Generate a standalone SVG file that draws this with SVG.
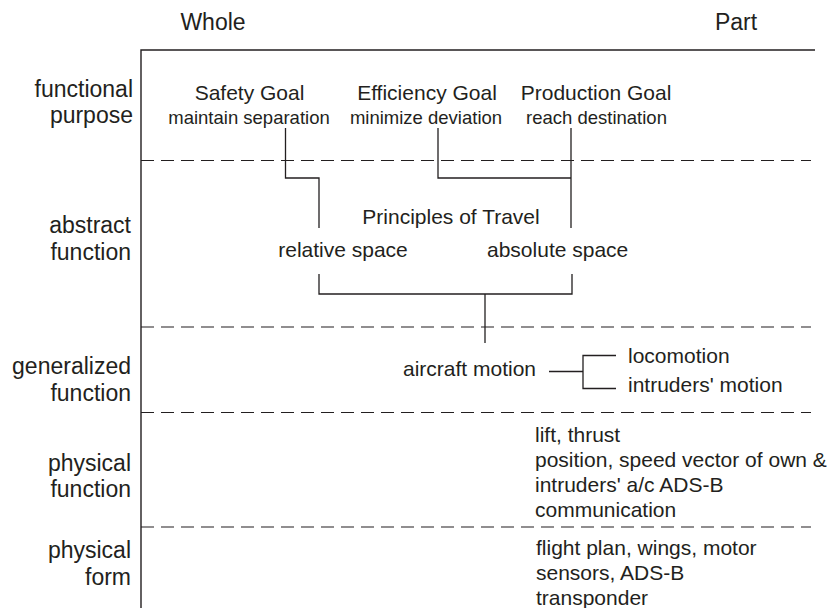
<svg xmlns="http://www.w3.org/2000/svg" width="827" height="608" viewBox="0 0 827 608">
<style>
text{font-family:"Liberation Sans",Arial,Helvetica,sans-serif;fill:#231f20}
.h{font-size:23px}
.lv{font-size:23px;text-anchor:end}
.g{font-size:21px;text-anchor:middle}
.s{font-size:18.5px;text-anchor:middle}
.t{font-size:21px}
.frame{stroke:#231f20;stroke-width:1.4;fill:none}
.dash{stroke:#231f20;stroke-width:1.2;stroke-dasharray:13 7;fill:none}
.c{stroke:#231f20;stroke-width:1.3;fill:none}
</style>
<rect width="827" height="608" fill="#fff"/>
<g id="axis">
<text class="h" x="213" y="30" text-anchor="middle">Whole</text>
<text class="h" x="736" y="30" text-anchor="middle">Part</text>
</g>
<g id="frame">
<path class="frame" d="M141,608 V50 H815"/>
<path class="dash" d="M141,160.5 H811 M141,327 H811 M141,412.5 H811 M141,527 H811"/>
</g>
<g id="levels">
<text class="lv" x="133" y="97">functional</text>
<text class="lv" x="133" y="123">purpose</text>
<text class="lv" x="131" y="233">abstract</text>
<text class="lv" x="131" y="260">function</text>
<text class="lv" x="131" y="374">generalized</text>
<text class="lv" x="131" y="401">function</text>
<text class="lv" x="131" y="471">physical</text>
<text class="lv" x="131" y="497">function</text>
<text class="lv" x="131" y="558">physical</text>
<text class="lv" x="131" y="585">form</text>
</g>
<g id="safety-goal">
<text class="g" x="249.5" y="100">Safety Goal</text>
<text class="s" x="249" y="124">maintain separation</text>
</g>
<g id="efficiency-goal">
<text class="g" x="427" y="100">Efficiency Goal</text>
<text class="s" x="426" y="124">minimize deviation</text>
</g>
<g id="production-goal">
<text class="g" x="596" y="100">Production Goal</text>
<text class="s" x="596.5" y="124">reach destination</text>
</g>
<g id="principles-of-travel">
<text class="t" x="451" y="224" text-anchor="middle">Principles of Travel</text>
</g>
<g id="relative-space">
<text class="t" x="343" y="257" text-anchor="middle">relative space</text>
</g>
<g id="absolute-space">
<text class="t" x="487" y="257">absolute space</text>
</g>
<g id="aircraft-motion">
<text class="t" x="403" y="376">aircraft motion</text>
</g>
<g id="locomotion">
<text class="t" x="628" y="363">locomotion</text>
</g>
<g id="intruders-motion">
<text class="t" x="628" y="392">intruders' motion</text>
</g>
<g id="physical-function">
<text class="t" x="535" y="441.5">lift, thrust</text>
<text class="t" x="535" y="466.5">position, speed vector of own &amp;</text>
<text class="t" x="535" y="491.5">intruders' a/c ADS-B</text>
<text class="t" x="535" y="516.5">communication</text>
</g>
<g id="physical-form">
<text class="t" x="536" y="555">flight plan, wings, motor</text>
<text class="t" x="536" y="580">sensors, ADS-B</text>
<text class="t" x="536" y="605">transponder</text>
</g>
<g id="connectors">
<path class="c" d="M285.5,128 V178 H319 V228"/>
<path class="c" d="M438,128 V178 H571"/>
<path class="c" d="M571,128 V228"/>
<path class="c" d="M319,274 V294 H572 V274"/>
<path class="c" d="M485,294 V343"/>
<path class="c" d="M549,371.5 H583"/>
<path class="c" d="M616,355.5 H583 V388.5 H616"/>
</g>
</svg>
